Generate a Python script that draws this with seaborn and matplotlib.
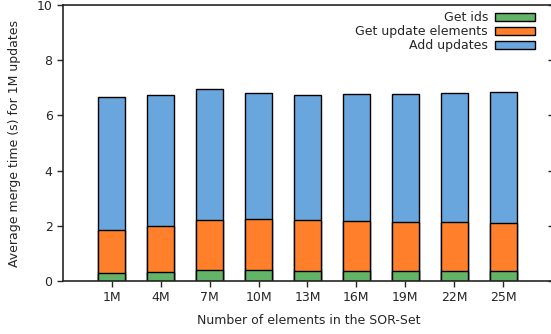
import matplotlib
matplotlib.use("Agg")
import matplotlib.pyplot as plt
from matplotlib.patches import Patch
import pandas as pd
import seaborn as sns

# Average merge time breakdown per SOR-Set size
sizes = ["1M", "4M", "7M", "10M", "13M", "16M", "19M", "22M", "25M"]
get_ids = [0.30, 0.33, 0.39, 0.40, 0.37, 0.36, 0.36, 0.36, 0.36]
get_update_elements = [1.54, 1.65, 1.83, 1.83, 1.85, 1.81, 1.79, 1.77, 1.75]
add_updates = [4.82, 4.77, 4.74, 4.59, 4.53, 4.61, 4.64, 4.68, 4.72]

series_names = ["Get ids", "Get update elements", "Add updates"]
colors = ["#62b466", "#ff7f2a", "#6aa6de"]

sns.set_style("ticks")
plt.rcParams["font.family"] = ["DejaVu Sans"]

df = pd.DataFrame({
    "size": sizes,
    "Get ids": get_ids,
    "Get update elements": get_update_elements,
    "Add updates": add_updates,
})
df["level1"] = df["Get ids"]
df["level2"] = df["level1"] + df["Get update elements"]
df["level3"] = df["level2"] + df["Add updates"]

fig = plt.figure(figsize=(5.51, 3.34), dpi=100)
ax = fig.add_axes([0.1143, 0.1587, 0.8911, 0.8263])

# Draw cumulative heights from the tallest down so each segment sits on the previous one
for col, color in zip(["level3", "level2", "level1"], colors[::-1]):
    sns.barplot(data=df, x="size", y=col, color=color, width=0.55,
                edgecolor="black", linewidth=1.0, saturation=1, ax=ax,
                order=sizes)

ax.set_xlim(-1, 9.04)
ax.set_ylim(0, 10)
ax.set_yticks([0, 2, 4, 6, 8, 10])
ax.set_xlabel("Number of elements in the SOR-Set", fontsize=9, labelpad=7)
ax.set_ylabel("Average merge time (s) for 1M updates", fontsize=9, labelpad=11)
ax.tick_params(axis="both", labelsize=9, direction="out", length=4, width=1)
for s in ax.spines.values():
    s.set_visible(True)
    s.set_linewidth(1.2)

# inward ticks along the right edge
ax2 = ax.twinx()
ax2.set_ylim(0, 10)
ax2.set_yticks([0, 2, 4, 6, 8, 10])
ax2.tick_params(axis="y", direction="in", length=4, width=1, labelright=False)
for s in ax2.spines.values():
    s.set_visible(False)

handles = [Patch(facecolor=c, edgecolor="black", linewidth=1.0) for c in colors]
leg = ax.legend(handles, series_names, loc="upper right", frameon=False,
                markerfirst=False, fontsize=9, handlelength=3.2, handleheight=0.55,
                labelspacing=0.08, borderaxespad=0.1, handletextpad=0.6,
                bbox_to_anchor=(0.975, 1.0))
for txt in leg.get_texts():
    txt.set_ha("right")

fig.savefig("out.png", dpi=100)
